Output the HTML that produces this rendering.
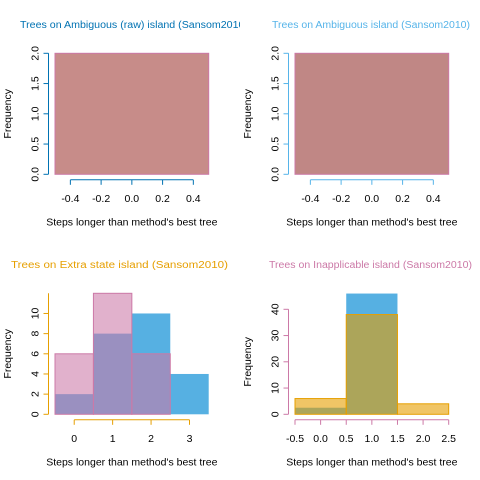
<!DOCTYPE html>
<html><head><meta charset="utf-8"><style>
html,body{margin:0;padding:0;background:#fff;}
svg{display:block;font-family:"Liberation Sans",sans-serif;}
</style></head><body>
<svg id="c" width="480" height="480" viewBox="0 0 480 480">
<defs><clipPath id="clipL"><rect x="0" y="0" width="240" height="480"/></clipPath></defs>
</svg>
<script>
// Panel 1: Ambiguous (raw)
const p1Breaks = [-0.5, 0.5];
const p1Counts = [2];
const p1XTicks = [-0.4, -0.2, 0.0, 0.2, 0.4];
const p1XLabels = ["-0.4", "-0.2", "0.0", "0.2", "0.4"];
const p1YTicks = [0, 0.5, 1, 1.5, 2];
const p1YLabels = ["0.0", "0.5", "1.0", "1.5", "2.0"];
// Panel 2: Ambiguous
const p2Breaks = [-0.5, 0.5];
const p2Counts = [2];
// Panel 3: Extra state
const p3Breaks = [-0.5, 0.5, 1.5, 2.5, 3.5];
const p3Blue = [2, 8, 10, 4];
const p3Pink = [6, 12, 6, 0];
const p3XTicks = [0, 1, 2, 3];
const p3XLabels = ["0", "1", "2", "3"];
const p3YTicks = [0, 2, 4, 6, 8, 10];
const p3YLabels = ["0", "2", "4", "6", "8", "10"];
// Panel 4: Inapplicable
const p4Breaks = [-0.5, 0.5, 1.5, 2.5];
const p4Blue = [2.5, 46, 0];
const p4Orange = [6, 38, 4];
const p4XTicks = [-0.5, 0, 0.5, 1, 1.5, 2, 2.5];
const p4XLabels = ["-0.5", "0.0", "0.5", "1.0", "1.5", "2.0", "2.5"];
const p4YTicks = [0, 10, 20, 30, 40];
const p4YLabels = ["0", "10", "20", "30", "40"];

const NS = "http://www.w3.org/2000/svg";
const svg = document.getElementById('c');
function mk(tag, attrs, parent, text) {
  const e = document.createElementNS(NS, tag);
  for (const k in attrs) e.setAttribute(k, attrs[k]);
  if (text !== undefined) e.textContent = text;
  (parent || svg).appendChild(e);
  return e;
}

function panel(o) {
  const g = mk('g', {});
  
  
  const x = v => o.x0 + (v - o.xmin) / (o.xmax - o.xmin) * (o.x1 - o.x0);
  const y = v => o.y0 - (v - o.ymin) / (o.ymax - o.ymin) * (o.y0 - o.y1);
  const tattrs = {x: o.tx, y: o.ty, fill: o.tcol, 'font-size': 10, textLength: o.tw, lengthAdjust: 'spacingAndGlyphs'};
  if (o.clip) tattrs['clip-path'] = 'url(#clipL)';
  const t = mk('text', tattrs, g, o.title);
  
  
  o.series.forEach((s) => {
    s.vals.forEach((v, i) => {
      if (v <= 0) return;
      const r = mk('rect', {x: x(o.breaks[i]), y: y(v), width: x(o.breaks[i+1]) - x(o.breaks[i]), height: y(0) - y(v),
        fill: s.fill, 'fill-opacity': s.op, stroke: s.stroke, 'stroke-width': 1}, g);
      
      
    });
  });
  const ax = o.x0 - 6.5;
  const ya = mk('g', {}, g);
  
  
  mk('line', {x1: ax, x2: ax, y1: y(o.yTicks[0]), y2: y(o.yAxTop), stroke: o.acol}, ya);
  o.yTicks.forEach((v, i) => {
    mk('line', {x1: ax, x2: ax - 5, y1: y(v), y2: y(v), stroke: o.acol}, ya);
    mk('text', {x: 0, y: 0, 'font-size': 10.5, fill: '#000', 'text-anchor': 'middle',
      transform: `translate(${ax - 10},${y(v)}) rotate(-90)`}, ya, o.yLabels[i]);
  });
  const ay = o.y0 + 5.5;
  const xa = mk('g', {}, g);
  
  
  const xt = o.xTicks;
  mk('line', {x1: x(xt[0]), x2: x(xt[xt.length-1]), y1: ay, y2: ay, stroke: o.acol}, xa);
  xt.forEach((v, i) => {
    mk('line', {x1: x(v), x2: x(v), y1: ay, y2: ay + 5, stroke: o.acol}, xa);
    mk('text', {x: x(v), y: ay + 22, 'font-size': 10.5, fill: '#000', 'text-anchor': 'middle'}, xa, o.xLabels[i]);
  });
  const xl = mk('text', {x: (o.x0 + o.x1) / 2, y: o.y0 + 51, 'font-size': 10.5, fill: '#000', 'text-anchor': 'middle'}, g, "Steps longer than method's best tree");
  
  
  const yl = mk('text', {x: 0, y: 0, 'font-size': 10.5, fill: '#000', 'text-anchor': 'middle',
    transform: `translate(${o.x0 - 44},${(o.y0 + o.y1) / 2}) rotate(-90)`}, g, "Frequency");
  
  
}

panel({name: 'panel-ambiguous-raw', x0: 55, x1: 208.7, y0: 174.3, y1: 53.3, xmin: -0.5, xmax: 0.5, ymin: 0, ymax: 2,
  breaks: p1Breaks, series: [{name: 'ambiguous-raw', vals: p1Counts, fill: '#c78c89', op: 1, stroke: '#cc79a7'}],
  xTicks: p1XTicks, xLabels: p1XLabels, yTicks: p1YTicks, yLabels: p1YLabels, yAxTop: 2, clip: true,
  acol: '#0072b2', tcol: '#0072b2', title: 'Trees on Ambiguous (raw) island (Sansom2010)', tx: 20, ty: 28, tw: 228});
panel({name: 'panel-ambiguous', x0: 295, x1: 448.7, y0: 174.3, y1: 53.3, xmin: -0.5, xmax: 0.5, ymin: 0, ymax: 2,
  breaks: p2Breaks, series: [{name: 'ambiguous', vals: p2Counts, fill: '#c08785', op: 1, stroke: '#cc79a7'}],
  xTicks: p1XTicks, xLabels: p1XLabels, yTicks: p1YTicks, yLabels: p1YLabels, yAxTop: 2,
  acol: '#56b4e9', tcol: '#56b4e9', title: 'Trees on Ambiguous island (Sansom2010)', tx: 272, ty: 28, tw: 198});
panel({name: 'panel-extra-state', x0: 55, x1: 208.7, y0: 414.3, y1: 293.3, xmin: -0.5, xmax: 3.5, ymin: 0, ymax: 12,
  breaks: p3Breaks, series: [
    {name: 'blue', vals: p3Blue, fill: '#56b0e2', op: 1, stroke: 'none'},
    {name: 'pink', vals: p3Pink, fill: '#cc79a7', op: 0.58, stroke: '#cc79a7'}],
  xTicks: p3XTicks, xLabels: p3XLabels, yTicks: p3YTicks, yLabels: p3YLabels, yAxTop: 12,
  acol: '#e69f00', tcol: '#e69f00', title: 'Trees on Extra state island (Sansom2010)', tx: 11, ty: 268, tw: 217});
panel({name: 'panel-inapplicable', x0: 295, x1: 448.7, y0: 414.3, y1: 309.3, xmin: -0.5, xmax: 2.5, ymin: 0, ymax: 40,
  breaks: p4Breaks, series: [
    {name: 'blue', vals: p4Blue, fill: '#56b0e2', op: 1, stroke: 'none'},
    {name: 'orange', vals: p4Orange, fill: '#e69f00', op: 0.6, stroke: '#e69f00'}],
  xTicks: p4XTicks, xLabels: p4XLabels, yTicks: p4YTicks, yLabels: p4YLabels, yAxTop: 40,
  acol: '#cc79a7', tcol: '#cc79a7', title: 'Trees on Inapplicable island (Sansom2010)', tx: 269, ty: 268, tw: 203});
</script>
</body></html>
